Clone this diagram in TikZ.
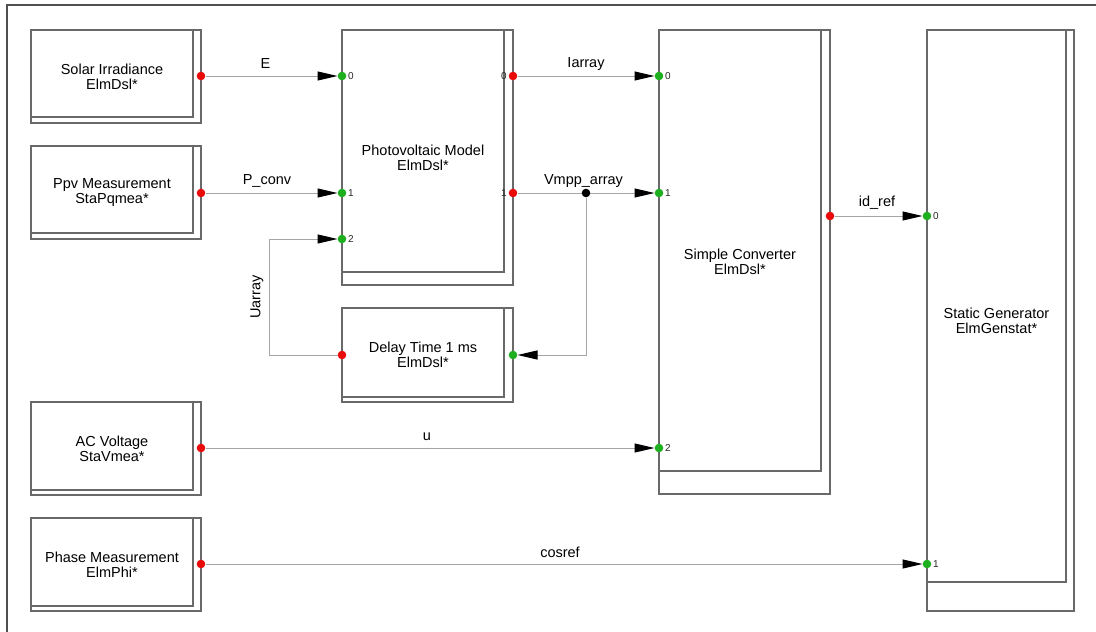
\documentclass[tikz,border=0pt]{standalone}
\usepackage{fontspec}
\setmainfont{Liberation Sans}
\usetikzlibrary{arrows.meta}

\definecolor{blkgray}{RGB}{105,105,105}
\definecolor{wiregray}{RGB}{165,165,165}
\definecolor{framegray}{RGB}{80,80,80}
\definecolor{portred}{RGB}{235,10,10}
\definecolor{portgreen}{RGB}{30,175,30}

\tikzset{
  blk/.style={draw=blkgray, line width=1.3pt},
  blktext/.style={align=center, font=\fontsize{14.5}{15}\selectfont, inner sep=0pt},
  inport/.style={circle, fill=portgreen, inner sep=0pt, minimum size=8.6pt},
  outport/.style={circle, fill=portred, inner sep=0pt, minimum size=8.6pt},
  joint/.style={circle, fill=black, inner sep=0pt, minimum size=8.6pt},
  portnum/.style={font=\fontsize{10}{10}\selectfont, inner sep=1.5pt, text=black!85},
  wire/.style={draw=wiregray, line width=1pt},
  sig/.style={font=\fontsize{14.5}{15}\selectfont, inner sep=0pt},
}

% block with shadow edge: name, left, top, inner right, inner bottom, outer right, outer bottom, text
\newcommand{\dslblock}[8]{%
  \draw[blk] (#2,#3) rectangle (#6,#7);
  \draw[blk] (#4,#3) |- (#2,#5);
  \node[blktext] (#1) at ({(#2+#4)/2},{(#3+#7)/2}) {#8};
}

\begin{document}
\begin{tikzpicture}[x=1pt,y=-1pt,>={Triangle[length=20pt,width=9pt,color=black]}]
  \useasboundingbox (0,0) rectangle (1096,632);

  % frame
  \draw[framegray, line width=2pt] (7,640) |- (1100,5);

  % blocks
  \dslblock{sol}{31}{30}{193}{117}{201}{123}{Solar Irradiance\\ElmDsl*}
  \dslblock{ppv}{31}{146}{193}{233}{201}{239}{Ppv Measurement\\StaPqmea*}
  \dslblock{acv}{31}{402}{193}{490}{201}{495}{AC Voltage\\StaVmea*}
  \dslblock{phi}{31}{518}{193}{606}{201}{611}{Phase Measurement\\ElmPhi*}
  \dslblock{pv}{342}{30}{504}{272}{513}{285}{Photovoltaic Model\\ElmDsl*}
  \dslblock{dly}{342}{308}{504}{397}{513}{402}{Delay Time 1 ms\\ElmDsl*}
  \dslblock{sc}{659}{30}{821}{471}{830}{494}{Simple Converter\\ElmDsl*}
  \dslblock{sg}{927}{30}{1066}{582}{1074}{611}{Static Generator\\ElmGenstat*}

  % ports
  \node[outport] (sol-o) at (201,76) {};
  \node[outport] (ppv-o) at (201,193) {};
  \node[outport] (acv-o) at (201,448) {};
  \node[outport] (phi-o) at (201,564) {};
  \node[inport, label={[portnum]right:0}] (pv-i0) at (342,76) {};
  \node[inport, label={[portnum]right:1}] (pv-i1) at (342,193) {};
  \node[inport, label={[portnum]right:2}] (pv-i2) at (342,239) {};
  \node[outport, label={[portnum]left:0}] (pv-o0) at (513,76) {};
  \node[outport, label={[portnum]left:1}] (pv-o1) at (513,193) {};
  \node[inport] (dly-i) at (513,355) {};
  \node[outport] (dly-o) at (342,355) {};
  \node[inport, label={[portnum]right:0}] (sc-i0) at (659,76) {};
  \node[inport, label={[portnum]right:1}] (sc-i1) at (659,193) {};
  \node[inport, label={[portnum]right:2}] (sc-i2) at (659,448) {};
  \node[outport] (sc-o) at (830,216) {};
  \node[inport, label={[portnum]right:0}] (sg-i0) at (927,216) {};
  \node[inport, label={[portnum]right:1}] (sg-i1) at (927,564) {};

  % signals
  \draw[wire,->] (sol-o) -- (pv-i0);
  \draw[wire,->] (ppv-o) -- (pv-i1);
  \draw[wire,->] (pv-o0) -- (sc-i0);
  \draw[wire,->] (pv-o1) -- (sc-i1);
  \draw[wire,->] (acv-o) -- (sc-i2);
  \draw[wire,->] (sc-o) -- (sg-i0);
  \draw[wire,->] (phi-o) -- (sg-i1);

  % feedback through delay
  \node[joint] (jn) at (586,193) {};
  \coordinate (ua) at (269,239);
  \draw[wire,->] (jn) |- (dly-i);
  \draw[wire,->] (dly-o) -| (ua) -- (pv-i2);

  % signal names
  \node[sig] (lbl-e) at (265.5,64) {E};
  \node[sig] (lbl-pc) at (267,181) {P\_conv};
  \node[sig] (lbl-ia) at (586,64) {Iarray};
  \node[sig] (lbl-vm) at (583.5,181) {Vmpp\_array};
  \node[sig] (lbl-id) at (877,203) {id\_ref};
  \node[sig] (lbl-u) at (427,437) {u};
  \node[sig] (lbl-cr) at (560,552) {cosref};
  \node[sig, rotate=90] (lbl-ua) at (257,297) {Uarray};
\end{tikzpicture}
\end{document}
